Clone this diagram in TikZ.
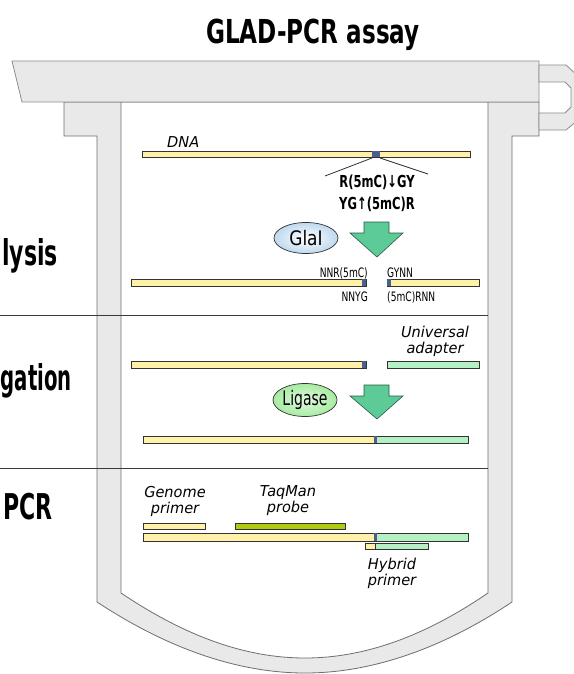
\documentclass[tikz,border=0pt]{standalone}
\usepackage{fontspec}
\setmainfont{DejaVu Sans}
\newfontfamily\dinf{DejaVu Sans}[FakeStretch=0.70]
\newfontfamily\stagef{DejaVu Sans}[FakeStretch=0.62]
\newfontfamily\stagefn{DejaVu Sans}[FakeStretch=0.555]
\newfontfamily\labf{DejaVu Sans}[FakeStretch=0.97]
\newfontfamily\enzf{DejaVu Sans}[FakeStretch=0.85]
\usetikzlibrary{shapes.geometric}
\definecolor{lidgray}{HTML}{E9E9E9}
\definecolor{lidline}{HTML}{8C8C8C}
\definecolor{wallline}{HTML}{6E6E6E}
\definecolor{sepline}{HTML}{3A3A3A}
\definecolor{yelS}{HTML}{FFF1A8}
\definecolor{grnS}{HTML}{B5F0C5}
\definecolor{bluM}{HTML}{4B5E8E}
\definecolor{arrG}{HTML}{5CCB98}
\definecolor{arrL}{HTML}{2A5A40}
\definecolor{taqC}{HTML}{B2CA12}
\definecolor{strL}{HTML}{333333}
\definecolor{glaiO}{HTML}{BFD9EE}
\definecolor{ligO}{HTML}{A6EBA0}
\begin{document}
\begin{tikzpicture}[x=1pt,y=-1pt,
  titletext/.style={font=\dinf\bfseries\fontsize{33}{36}\selectfont, inner sep=0, anchor=base},
  stagetext/.style={font=\stagef\bfseries\fontsize{35.5}{38}\selectfont, inner sep=0, anchor=base east},
  sitetext/.style={font=\dinf\bfseries\fontsize{16.5}{18}\selectfont, inner sep=0, anchor=base},
  endtext/.style={font=\dinf\fontsize{13}{14}\selectfont, inner sep=0},
  labtext/.style={font=\labf\itshape\fontsize{15}{16}\selectfont, inner sep=0, align=center},
  enzyme/.style={ellipse, draw=strL, line width=0.7pt, minimum width=64pt, minimum height=31pt, inner sep=0, shading=radial},
  strandbox/.style={draw=strL, line width=0.7pt},
  bigarrow/.style={fill=arrG, draw=arrL, line width=0.6pt, line join=miter},
  wall/.style={fill=lidgray, draw=wallline, line width=0.8pt},
  sep/.style={draw=sepline, line width=1pt}
]
\useasboundingbox (0,0) rectangle (573,674);

% tube walls
\path[wall] (64,102) -- (64,136) -- (97,136) -- (97,602)
  .. controls (170,650) and (240,673) .. (305,673)
  .. controls (370,673) and (440,650) .. (512,602)
  -- (512,136) -- (539,136) -- (539,102) -- cycle;
\path[fill=white, draw=wallline, line width=0.8pt] (121,102) -- (121,593)
  .. controls (185,636) and (245,658) .. (305,658)
  .. controls (365,658) and (425,636) .. (488,593)
  -- (488,102) -- cycle;
% lid
\path[fill=lidgray, draw=lidline, line width=0.8pt] (12,61) -- (539,61) -- (539,102) -- (22,102) -- cycle;
% tab
\path[fill=lidgray, draw=lidline, line width=0.8pt] (539,65) -- (566,65) -- (578,76) -- (578,120) -- (566,130) -- (539,130)
  -- (539,113) -- (565,113) -- (571,107) -- (571,88) -- (565,82) -- (539,82) -- cycle;

% separators
\draw[sep] (0,315) -- (488,315);
\draw[sep] (0,468) -- (488,468);

% title and stage labels
\node[titletext] (title) at (313,44) {GLAD-PCR assay};
\node[stagetext] (stage1) at (58,265) {lysis};
\node[stagetext, font=\stagefn\bfseries\fontsize{35.5}{38}\selectfont] (stage2) at (72,390) {gation};
\node[stagetext] (stage3) at (53,519) {PCR};

% ---------- stage 1 ----------
\node[labtext, anchor=base west] (dna) at (167,147) {DNA};
\path[strandbox, fill=yelS] (142,151) rectangle (470,157);
\fill[bluM] (372,151.4) rectangle (380,156.6);
\coordinate (cutL) at (372,158);
\coordinate (cutR) at (380,158);
\coordinate (legL) at (325,176);
\coordinate (legR) at (428,174);
\draw[strL, line width=0.8pt] (cutL) -- (legL);
\draw[strL, line width=0.8pt] (cutR) -- (legR);
\node[sitetext] (site1) at (377,187) {R(5mC)↓GY};
\node[sitetext] (site2) at (377,209) {YG↑(5mC)R};

\node[enzyme, inner color=white, outer color=glaiO, font=\enzf\fontsize{20}{22}\selectfont] (glai) at (306,238) {GlaI};
\path[bigarrow] (364,222) -- (389,222) -- (389,233) -- (403,233) -- (377,257) -- (350,233) -- (364,233) -- cycle;

\path[strandbox, fill=yelS] (131,279) rectangle (366,286);
\fill[bluM] (362,279.4) rectangle (366,285.6);
\path[strandbox, fill=yelS] (387,279) rectangle (479,286);
\fill[bluM] (387,279.4) rectangle (391,285.6);
\node[endtext, anchor=base east] (e1) at (368,277) {NNR(5mC)};
\node[endtext, anchor=base west] (e2) at (387,277) {GYNN};
\node[endtext, anchor=base east] (e3) at (368,301) {NNYG};
\node[endtext, anchor=base west] (e4) at (387,301) {(5mC)RNN};

% ---------- stage 2 ----------
\node[labtext] (adapter) at (435,341) {Universal\\adapter};
\path[strandbox, fill=yelS] (131,361) rectangle (366,368);
\fill[bluM] (362,361.4) rectangle (366,367.6);
\path[strandbox, fill=grnS] (387,361) rectangle (479,368);

\node[enzyme, minimum height=33pt, inner color=white!70!ligO, outer color=ligO, font=\dinf\fontsize{20}{22}\selectfont] (ligase) at (305,400) {Ligase};
\path[bigarrow] (364,385) -- (389,385) -- (389,396) -- (403,396) -- (377,419) -- (350,396) -- (364,396) -- cycle;

\path[strandbox, fill=yelS] (143,436) rectangle (375,443);
\path[strandbox, fill=grnS] (375,436) rectangle (468,443);
\fill[bluM] (374,436.4) rectangle (376.5,442.6);

% ---------- stage 3 ----------
\node[labtext] (genome) at (175,501) {Genome\\primer};
\node[labtext] (taqman) at (288,501) {TaqMan\\probe};
\path[strandbox, fill=yelS] (143,523) rectangle (205,529);
\path[strandbox, fill=taqC] (235,523) rectangle (345,529);
\path[strandbox, fill=yelS] (143,533) rectangle (375,541);
\path[strandbox, fill=grnS] (375,533) rectangle (468,541);
\fill[bluM] (374,533.4) rectangle (376.5,540.6);
\path[strandbox, fill=yelS] (365,543) rectangle (375,549);
\path[strandbox, fill=grnS] (375,543) rectangle (428,549);
\node[labtext] (hybrid) at (392,573) {Hybrid\\primer};
\end{tikzpicture}
\end{document}
